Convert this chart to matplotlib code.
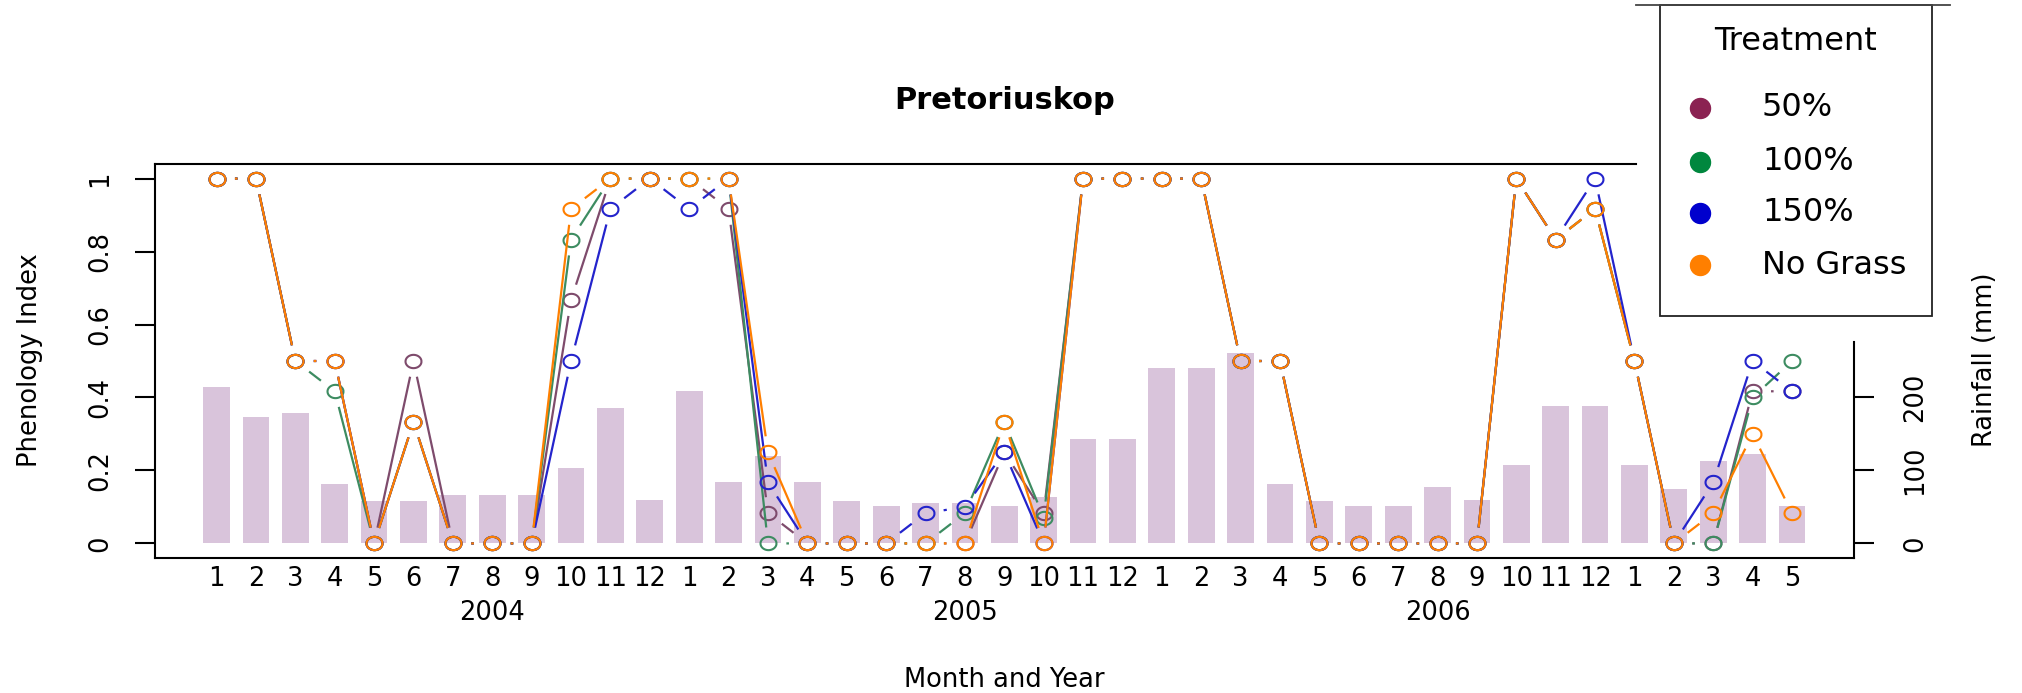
#!/usr/bin/env python3
"""Pretoriuskop phenology index per treatment, over monthly rainfall bars."""

import numpy as np
import matplotlib
matplotlib.use("Agg")
import matplotlib.pyplot as plt
from matplotlib.lines import Line2D
from matplotlib.patches import Rectangle
from matplotlib.path import Path

MONTHS = [1, 2, 3, 4, 5, 6, 7, 8, 9, 10, 11, 12,
          1, 2, 3, 4, 5, 6, 7, 8, 9, 10, 11, 12,
          1, 2, 3, 4, 5, 6, 7, 8, 9, 10, 11, 12,
          1, 2, 3, 4, 5]
YEARS = ["2004", "2005", "2006"]
YEAR_AT = [8, 20, 32]

RAINFALL = [215, 173, 179, 81, 58, 58, 67, 67, 67, 103, 185, 60,
            209, 84, 120, 84, 58, 51, 55, 55, 51, 64, 143, 143,
            241, 241, 261, 81, 58, 51, 51, 77, 60, 107, 188, 188,
            107, 74, 113, 123, 51]

P50 = [1, 1, 0.5, 0.5, 0, 0.5, 0, 0, 0, 0.667, 1, 1,
       1, 0.917, 0.083, 0, 0, 0, 0, 0, 0.25, 0.083, 1, 1,
       1, 1, 0.5, 0.5, 0, 0, 0, 0, 0, 1, 0.833, 0.917,
       0.5, 0, 0, 0.417, 0.417]
P100 = [1, 1, 0.5, 0.417, 0, 0.333, 0, 0, 0, 0.833, 1, 1,
        1, 1, 0, 0, 0, 0, 0, 0.083, 0.333, 0.071, 1, 1,
        1, 1, 0.5, 0.5, 0, 0, 0, 0, 0, 1, 0.833, 0.917,
        0.5, 0, 0, 0.4, 0.5]
P150 = [1, 1, 0.5, 0.5, 0, 0.333, 0, 0, 0, 0.5, 0.917, 1,
        0.917, 1, 0.167, 0, 0, 0, 0.083, 0.1, 0.25, 0, 1, 1,
        1, 1, 0.5, 0.5, 0, 0, 0, 0, 0, 1, 0.833, 1,
        0.5, 0, 0.167, 0.5, 0.417]
NO_GRASS = [1, 1, 0.5, 0.5, 0, 0.333, 0, 0, 0, 0.917, 1, 1,
            1, 1, 0.25, 0, 0, 0, 0, 0, 0.333, 0, 1, 1,
            1, 1, 0.5, 0.5, 0, 0, 0, 0, 0, 1, 0.833, 0.917,
            0.5, 0, 0.083, 0.3, 0.083]

TREATMENTS = ["50%", "100%", "150%", "No Grass"]
SERIES = [P50, P100, P150, NO_GRASS]
LINE_COLORS = ["#7E4B6C", "#3D8C61", "#2424CC", "#FF7F00"]
KEY_COLORS = ["#8B2252", "#00873E", "#0000CD", "#FF7F00"]

Y_TICKS = [0, 0.2, 0.4, 0.6, 0.8, 1]
Y_LABELS = ["0", "0.2", "0.4", "0.6", "0.8", "1"]
RAIN_TICKS = [0, 100, 200]

W, H = 2022, 693
plt.rcParams["font.family"] = ["DejaVu Sans"]
plt.rcParams["font.size"] = 18.5

# open circles, slightly wider than tall like the reference
theta = np.linspace(0, 2 * np.pi, 61)
RING = Path(np.column_stack([1.2 * np.cos(theta), np.sin(theta)]))


def gapped(ax, xs, ys, gap=16.0, squash=1.15):
    """Segments between points, cut back near each point (R type='b')."""
    pts = ax.transData.transform(np.column_stack([xs, ys]))
    inv = ax.transData.inverted()
    out_x, out_y = [], []
    for p0, p1 in zip(pts[:-1], pts[1:]):
        d = p1 - p0
        dist = np.hypot(d[0] / squash, d[1])
        if dist <= 2 * gap:
            continue
        t = gap / dist
        a = inv.transform(p0 + t * d)
        b = inv.transform(p1 - t * d)
        out_x += [a[0], b[0], np.nan]
        out_y += [a[1], b[1], np.nan]
    return out_x, out_y


def main() -> None:
    fig = plt.figure(figsize=(W / 100, H / 100), dpi=100)
    ax = fig.add_axes([155 / W, 135 / H, 1699 / W, 394 / H])
    ax2 = ax.twinx()
    ax.set_zorder(ax2.get_zorder() + 1)
    ax.patch.set_visible(False)

    x = np.arange(1, len(MONTHS) + 1)
    ax.set_xlim(-0.563, 42.574)
    ax.set_ylim(-0.04, 1.04)
    ax2.set_ylim(-20, 520)

    ax2.bar(x, RAINFALL, width=0.68, color="#D9C4DB", linewidth=0)

    for vals, col in zip(SERIES, LINE_COLORS):
        sx, sy = gapped(ax, x, vals)
        ax.plot(sx, sy, color=col, lw=1.6, solid_capstyle="butt")
        ax.plot(x, vals, linestyle="none", marker=RING, markersize=11.5,
                markerfacecolor="none", markeredgecolor=col, markeredgewidth=1.5)

    for sp in ["left", "bottom", "top"]:
        ax.spines[sp].set_linewidth(1.5)
    ax.spines["right"].set_visible(False)
    ax.spines["top"].set_bounds(-0.563, 37.04)
    for sp in ["left", "bottom", "top"]:
        ax2.spines[sp].set_visible(False)
    ax2.spines["right"].set_linewidth(1.5)
    ax2.spines["right"].set_bounds(-20, 276)

    ax.set_xticks(x)
    ax.set_xticklabels([str(m) for m in MONTHS])
    ax.tick_params(axis="x", length=0, pad=5.5)
    ax.set_yticks(Y_TICKS)
    ax.set_yticklabels(Y_LABELS, rotation=90, va="center")
    ax.tick_params(axis="y", length=14.4, width=1.5, pad=16)
    ax2.set_yticks(RAIN_TICKS)
    ax2.set_yticklabels([str(t) for t in RAIN_TICKS], rotation=90, va="center")
    ax2.tick_params(axis="y", length=14.4, width=1.5, pad=20)

    xt = ax.get_xaxis_transform()
    for label, pos in zip(YEARS, YEAR_AT):
        ax.text(pos, -0.157, label, transform=xt, ha="center", va="baseline")
    ax.text(0.5, -0.327, "Month and Year", transform=ax.transAxes,
            ha="center", va="baseline")
    ax.text(0.5, 1.1396, "Pretoriuskop", transform=ax.transAxes,
            ha="center", va="baseline", fontsize=22, fontweight="bold")
    fig.text(30 / W, 1 - 360 / H, "Phenology Index", rotation=90,
             ha="center", va="center")
    fig.text(1985 / W, 1 - 360 / H, "Rainfall (mm)", rotation=90,
             ha="center", va="center")

    # legend box, built by hand to sit where the reference has it
    fig.patches.append(Rectangle((1660 / W, 1 - 316 / H), 272 / W, 311 / H,
                                 transform=fig.transFigure, facecolor="white",
                                 edgecolor="#222222", linewidth=1.3, zorder=5))
    fig.lines.append(Line2D([1636 / W, 1950 / W], [1 - 5 / H, 1 - 5 / H],
                            transform=fig.transFigure, color="#444444",
                            linewidth=1.3, zorder=6))
    fig.text(1796 / W, 1 - 42 / H, "Treatment", ha="center", va="center",
             fontsize=23, zorder=6)
    rows = [108, 162, 213, 265]
    for name, col, ry in zip(TREATMENTS, KEY_COLORS, rows):
        fig.lines.append(Line2D([1700 / W], [1 - ry / H], transform=fig.transFigure,
                                marker="o", markersize=14.4, color=col,
                                linestyle="none", zorder=6))
        fig.text(1762 / W, 1 - ry / H, name, ha="left", va="center",
                 fontsize=23, zorder=6)

    fig.savefig("out.png", dpi=100)
    plt.close(fig)


if __name__ == "__main__":
    main()
